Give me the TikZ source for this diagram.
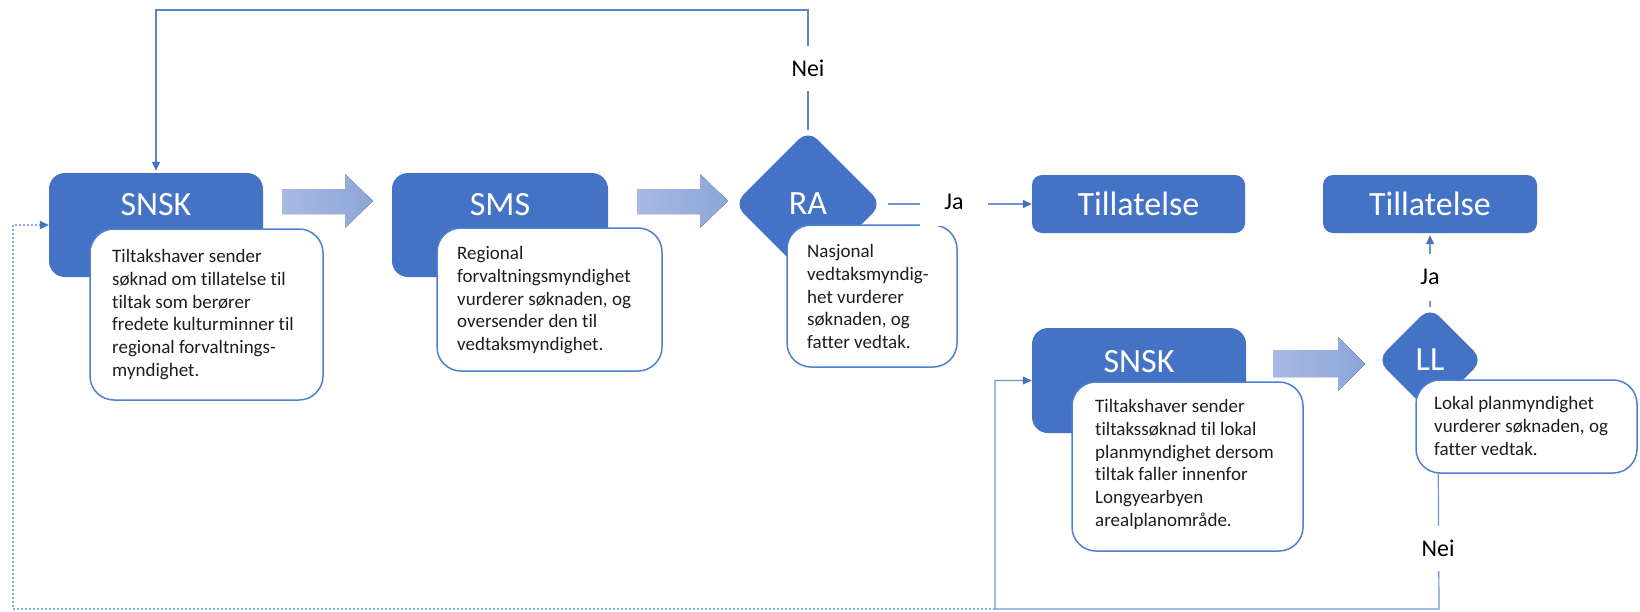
\documentclass[tikz,border=0pt]{standalone}
\usepackage{fontspec}
\setmainfont{Carlito}[Ligatures=NoCommon]
\usetikzlibrary{shapes.geometric,arrows.meta,calc,backgrounds}
\definecolor{dblue}{HTML}{4472C4}
\definecolor{bord}{HTML}{4F7FD0}
\definecolor{lconn}{HTML}{6F95D8}
\definecolor{tconn}{HTML}{5A84CF}
\definecolor{dotc}{HTML}{8FAADC}
\definecolor{arl}{HTML}{A8BAE3}
\definecolor{arr}{HTML}{8DA5D9}
\definecolor{txt}{HTML}{1E1E1E}
\begin{document}
\begin{tikzpicture}[x=1pt,y=-1pt,
 darkbox/.style={draw=none,fill=dblue,rounded corners=16pt,inner sep=0pt},
 tilbox/.style={fill=dblue,rounded corners=10pt,inner sep=0pt},
 whitebox/.style={draw=bord,line width=1.5pt,fill=white,rounded corners=24pt,inner sep=0pt},
 decision/.style={diamond,fill=dblue,rounded corners=13pt,inner sep=0pt,aspect=1},
 title/.style={text=white,font=\fontsize{34}{40}\selectfont,inner sep=0pt},
 body/.style={text=txt,font=\fontsize{19}{22.8}\selectfont,align=left,anchor=north west,inner sep=0pt},
 lab/.style={fill=white,text=black,font=\fontsize{24}{28}\selectfont,inner sep=0pt},
 conn/.style={draw=lconn,line width=1.2pt},
 tip/.style={-{Triangle[width=8pt,length=9pt,color=dblue]}},
 dotconn/.style={draw=dotc,line width=1.5pt,dash pattern=on 2pt off 2pt},
 bigarrow/.style={left color=arl,right color=arr,draw=none}
]
\useasboundingbox (0,0) rectangle (1640,611);

% dark boxes
\node[darkbox,minimum width=214,minimum height=104] (SNSK1) at (156,225) {};
\node[title] (SNSK1t) at (156,205) {SNSK};
\node[whitebox,minimum width=233,minimum height=171] (T1) at (206.5,314.5) {};
\node[body] (T1txt) at (112,249) {Tiltakshaver sender\\søknad om tillatelse til\\tiltak som berører\\fredete kulturminner til\\regional forvaltnings-\\myndighet.};

\node[darkbox,minimum width=216,minimum height=104] (SMS) at (500,225) {};
\node[title] (SMSt) at (500,205) {SMS};
\node[whitebox,minimum width=225,minimum height=143] (T2) at (549.5,299.5) {};
\node[body] (T2txt) at (457,246) {Regional\\forvaltningsmyndighet\\vurderer søknaden, og\\oversender den til\\vedtaksmyndighet.};

\node[decision,title,minimum width=148,minimum height=148] (RA) at (808,204) {RA};
\node[whitebox,minimum width=170,minimum height=142] (T3) at (872,296) {};
\node[body] (T3txt) at (807,244) {Nasjonal\\vedtaksmyndig-\\het vurderer\\søknaden, og\\fatter vedtak.};

\node[tilbox,title,minimum width=213,minimum height=58] (Till1) at (1138.5,204) {Tillatelse};
\node[tilbox,title,minimum width=214,minimum height=58] (Till2) at (1430,204) {Tillatelse};

\node[darkbox,minimum width=214,minimum height=105] (SNSK2) at (1139,380.5) {};
\node[title] (SNSK2t) at (1139,362) {SNSK};
\node[whitebox,minimum width=231,minimum height=169] (T4) at (1187.5,466.5) {};
\node[body] (T4txt) at (1095,399) {Tiltakshaver sender\\tiltakssøknad til lokal\\planmyndighet dersom\\tiltak faller innenfor\\Longyearbyen\\arealplanområde.};

\node[decision,title,minimum width=106,minimum height=106] (LL) at (1430,360) {LL};
\node[whitebox,minimum width=221,minimum height=93] (T5) at (1526.5,426.5) {};
\node[body] (T5txt) at (1434,396) {Lokal planmyndighet\\vurderer søknaden, og\\fatter vedtak.};

% block arrows
\fill[bigarrow] (282,189) -- (345,189) -- (345,174) -- (373,201) -- (345,228) -- (345,214) -- (282,214) -- cycle;
\fill[bigarrow] (637,189) -- (700,189) -- (700,174) -- (728,201) -- (700,228) -- (700,214) -- (637,214) -- cycle;
\fill[bigarrow] (1273,350) -- (1338,350) -- (1338,337) -- (1365,364) -- (1338,391) -- (1338,377) -- (1273,377) -- cycle;

% labels
\node[lab,minimum width=62,minimum height=45] (nei1) at (808,68) {Nei};
\node[lab,minimum width=68,minimum height=47] (ja1) at (954,202) {Ja};
\node[lab,minimum width=76,minimum height=47] (ja2) at (1430,277) {Ja};
\node[lab,minimum width=90,minimum height=45] (nei2) at (1438,548) {Nei};

% connectors
\coordinate (t1) at (808,10);
\coordinate (b1) at (1439,609);
\coordinate (b2) at (995,609);
\coordinate (b3) at (13,609);
\begin{scope}[on background layer]
\fill[white] (0,0) rectangle (1640,611);
\draw[conn,draw=tconn,tip,shorten >=2pt] (RA.north) -- (t1) -| (SNSK1.north);
\draw[conn,tip,shorten <=6pt] (RA.east) -- (Till1.west);
\draw[conn,tip,shorten >=2pt] (LL.north) -- (Till2.south);
\draw[conn,tip] ($(T5.south west)+(23,0)$) -- (b1) -- (b2) |- (SNSK2.west);
\draw[dotconn,tip] (b2) -- (b3) |- (SNSK1.west);
\end{scope}
\end{tikzpicture}
\end{document}
